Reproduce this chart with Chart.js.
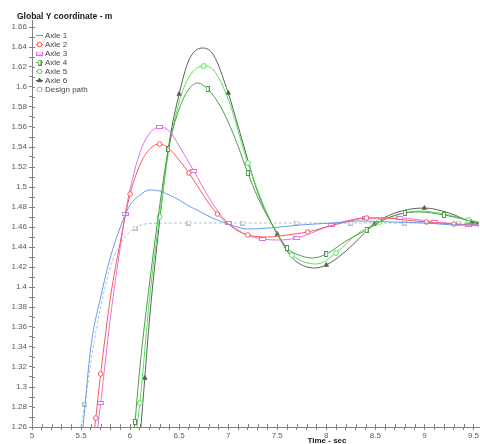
<!DOCTYPE html>
<html>
<head>
<meta charset="utf-8">
<script src="https://cdn.jsdelivr.net/npm/chart.js@4/dist/chart.umd.min.js"></script>
<style>
  html, body { margin: 0; padding: 0; background: #fff; }
  canvas { display: block; }
</style>
</head>
<body>
<canvas id="chart" width="480" height="444"></canvas>
<script>
// time (sec) / global Y coordinate (m)
const axle1Time = [5.5, 5.52, 5.6, 5.7, 5.8, 5.9, 6.0, 6.1, 6.2, 6.3, 6.4, 6.5, 6.6, 6.7, 6.84, 7.0, 7.2, 7.42, 7.73, 8.06, 8.34, 8.67, 9.0, 9.35, 9.56];
const axle1Y    = [1.24, 1.26, 1.34, 1.39, 1.43, 1.46, 1.482, 1.492, 1.497, 1.496, 1.492, 1.487, 1.481, 1.476, 1.469, 1.463, 1.458, 1.459, 1.462, 1.464, 1.466, 1.465, 1.464, 1.462, 1.462];

const axle2Time  = [5.6, 5.65, 5.7, 5.8, 5.9, 6.0, 6.1, 6.2, 6.3, 6.4, 6.5, 6.6, 6.7, 6.8, 6.89, 7.0, 7.1, 7.2, 7.4, 7.6, 7.81, 8.0, 8.2, 8.41, 8.6, 8.8, 9.02, 9.3, 9.56];
const axle2Y     = [1.225, 1.269, 1.313, 1.39, 1.445, 1.493, 1.522, 1.538, 1.543, 1.538, 1.527, 1.514, 1.499, 1.484, 1.473, 1.463, 1.456, 1.452, 1.450, 1.452, 1.455, 1.460, 1.465, 1.469, 1.469, 1.467, 1.465, 1.463, 1.462];
const axle2Marks = [5.65, 5.7, 6.0, 6.3, 6.6, 6.89, 7.2, 7.81, 8.41, 9.02, 9.3];

const axle3Time  = [5.62, 5.67, 5.7, 5.8, 5.9, 5.95, 6.05, 6.15, 6.3, 6.4, 6.5, 6.65, 6.8, 6.9, 7.0, 7.1, 7.19, 7.35, 7.5, 7.7, 7.9, 8.05, 8.2, 8.4, 8.75, 9.1, 9.45, 9.56];
const axle3Y     = [1.22, 1.26, 1.284, 1.37, 1.44, 1.473, 1.518, 1.546, 1.56, 1.556, 1.541, 1.516, 1.49, 1.475, 1.464, 1.457, 1.452, 1.448, 1.447, 1.449, 1.456, 1.462, 1.466, 1.469, 1.469, 1.465, 1.462, 1.461];
const axle3Marks = [5.7, 5.95, 6.3, 6.65, 7.0, 7.35, 7.7, 8.05, 8.4, 8.75, 9.1, 9.45];

const axle4Time  = [6.0, 6.05, 6.1, 6.2, 6.3, 6.39, 6.5, 6.6, 6.69, 6.79, 6.9, 7.0, 7.1, 7.2, 7.3, 7.44, 7.6, 7.75, 7.86, 8.0, 8.2, 8.41, 8.6, 8.8, 8.95, 9.2, 9.56];
const axle4Y     = [1.215, 1.265, 1.32, 1.405, 1.48, 1.538, 1.578, 1.598, 1.604, 1.598, 1.584, 1.565, 1.541, 1.514, 1.49, 1.464, 1.439, 1.431, 1.429, 1.433, 1.446, 1.457, 1.468, 1.474, 1.475, 1.472, 1.464];
const axle4Marks = [6.05, 6.39, 6.79, 7.2, 7.6, 8.0, 8.41, 8.8, 9.2];

const axle5Time  = [6.02, 6.07, 6.1, 6.2, 6.3, 6.4, 6.5, 6.6, 6.75, 6.85, 7.0, 7.2, 7.44, 7.55, 7.65, 7.9, 8.1, 8.3, 8.54, 8.75, 8.95, 9.2, 9.45, 9.56];
const axle5Y     = [1.215, 1.26, 1.284, 1.39, 1.47, 1.54, 1.585, 1.61, 1.621, 1.617, 1.588, 1.524, 1.464, 1.445, 1.432, 1.423, 1.434, 1.452, 1.465, 1.473, 1.476, 1.473, 1.467, 1.465];
const axle5Marks = [6.1, 6.3, 6.75, 7.2, 7.65, 8.1, 8.54, 9.45];

const axle6Time  = [6.07, 6.11, 6.15, 6.2, 6.3, 6.4, 6.5, 6.6, 6.74, 6.85, 7.0, 7.1, 7.2, 7.3, 7.44, 7.5, 7.6, 7.7, 7.88, 8.0, 8.2, 8.35, 8.49, 8.7, 9.0, 9.25, 9.48, 9.56];
const axle6Y     = [1.215, 1.26, 1.309, 1.37, 1.465, 1.545, 1.593, 1.627, 1.639, 1.632, 1.594, 1.561, 1.527, 1.495, 1.464, 1.453, 1.436, 1.425, 1.419, 1.422, 1.436, 1.45, 1.463, 1.474, 1.479, 1.474, 1.465, 1.463];
const axle6Marks = [6.15, 6.5, 7.0, 7.5, 8.0, 8.49, 9.0, 9.48];

const designTime  = [5.45, 5.5, 5.54, 5.6, 5.66, 5.79, 5.9, 6.05, 6.2, 6.6, 7.15, 7.7, 8.25, 8.8, 9.35, 9.56];
const designY     = [1.235, 1.26, 1.283, 1.325, 1.36, 1.417, 1.443, 1.459, 1.4635, 1.464, 1.464, 1.464, 1.464, 1.464, 1.464, 1.464];
const designMarks = [5.54, 6.05, 6.6, 7.15, 7.7, 8.25, 8.8, 9.35];

const FONT = '"Liberation Sans", Arial, sans-serif';

// small hollow box markers
function boxMarker(w, h, color) {
    const c = document.createElement('canvas');
    c.width = w; c.height = h;
    const g = c.getContext('2d');
    g.fillStyle = '#fff';
    g.fillRect(0, 0, w, h);
    g.strokeStyle = color;
    g.lineWidth = 1;
    g.strokeRect(0.5, 0.5, w - 1, h - 1);
    return c;
}

function pts(time, y) {
    return time.map((t, i) => ({x: t, y: y[i]}));
}
function radii(time, marks, r) {
    return time.map(t => marks.includes(t) ? r : 0);
}

const series = [
    {label: 'Axle 1', color: '#6b98ef', data: pts(axle1Time, axle1Y), radius: axle1Time.map(() => 0), style: 'circle'},
    {label: 'Axle 2', color: '#ff5757', data: pts(axle2Time, axle2Y), radius: radii(axle2Time, axle2Marks, 2.3), style: 'circle'},
    {label: 'Axle 3', color: '#e272e2', data: pts(axle3Time, axle3Y), radius: radii(axle3Time, axle3Marks, 3), style: boxMarker(7, 4, '#e272e2')},
    {label: 'Axle 4', color: '#4f9a4f', data: pts(axle4Time, axle4Y), radius: radii(axle4Time, axle4Marks, 3), style: boxMarker(4, 6, '#4f9a4f')},
    {label: 'Axle 5', color: '#4ee84e', data: pts(axle5Time, axle5Y), radius: radii(axle5Time, axle5Marks, 2.5), style: 'circle'},
    {label: 'Axle 6', color: '#5e5e5e', data: pts(axle6Time, axle6Y), radius: radii(axle6Time, axle6Marks, 2.5), style: 'triangle'},
    {label: 'Design path', color: '#a8c6cc', data: pts(designTime, designY), radius: radii(designTime, designMarks, 3), style: boxMarker(5, 5, '#a8c6cc'), dash: [3, 2]}
];

const decorations = {
    id: 'decorations',
    beforeDatasetsDraw(chart) {
        // inner half of the crossing ticks
        const ctx = chart.ctx;
        const xs = chart.scales.x, ys = chart.scales.y;
        ctx.save();
        ctx.strokeStyle = '#808080';
        ctx.lineWidth = 1;
        ctx.beginPath();
        xs.ticks.forEach(t => {
            const px = Math.round(xs.getPixelForValue(t.value)) + 0.5;
            ctx.moveTo(px, xs.top);
            ctx.lineTo(px, xs.top - 3);
        });
        ys.ticks.forEach(t => {
            const py = Math.round(ys.getPixelForValue(t.value)) + 0.5;
            ctx.moveTo(ys.right, py);
            ctx.lineTo(ys.right + 3, py);
        });
        ctx.stroke();
        ctx.restore();
    },
    afterDraw(chart) {
        const ctx = chart.ctx;
        ctx.save();
        ctx.fillStyle = '#1a1a1a';
        ctx.font = 'bold 8.5px ' + FONT;
        ctx.textBaseline = 'middle';
        ctx.textAlign = 'left';
        ctx.fillText('Global Y coordinate - m', 17, 17);
        ctx.font = 'bold 8px ' + FONT;
        ctx.textAlign = 'center';
        ctx.textBaseline = 'top';
        ctx.fillText('Time - sec', 327, 437);

        // legend inside the plot
        ctx.font = '8px ' + FONT;
        ctx.textAlign = 'left';
        ctx.textBaseline = 'middle';
        series.forEach((s, i) => {
            const y = 35.5 + i * 9;
            ctx.strokeStyle = s.color;
            ctx.lineWidth = 1;
            ctx.setLineDash(s.dash || []);
            ctx.beginPath();
            ctx.moveTo(36, y);
            ctx.lineTo(43, y);
            ctx.stroke();
            ctx.setLineDash([]);
            if (i > 0) {
                Chart.helpers.drawPoint(ctx, {
                    pointStyle: s.style, radius: 2.2, rotation: 0, borderWidth: 1
                }, 39.5, y);
                ctx.fillStyle = s.style === 'triangle' ? s.color : '#fff';
                ctx.strokeStyle = s.color;
                if (typeof s.style === 'string') {
                    ctx.fill();
                    ctx.stroke();
                }
            }
            ctx.fillStyle = '#444';
            ctx.fillText(s.label, 45, y);
        });
        ctx.restore();
    }
};

new Chart(document.getElementById('chart'), {
    type: 'line',
    data: {
        datasets: series.map(s => ({
            label: s.label,
            data: s.data,
            borderColor: s.color,
            borderWidth: 1,
            borderDash: s.dash || [],
            pointRadius: s.radius,
            pointStyle: s.style,
            pointBorderColor: s.color,
            pointBackgroundColor: s.style === 'triangle' ? s.color : '#fff',
            pointBorderWidth: 1,
            cubicInterpolationMode: 'monotone',
            fill: false
        }))
    },
    options: {
        responsive: false,
        animation: false,
        events: [],
        layout: {padding: {top: 20, left: 0, right: 0, bottom: 0}},
        plugins: {
            legend: {display: false},
            tooltip: {enabled: false}
        },
        scales: {
            x: {
                type: 'linear',
                min: 5,
                max: 9.557,
                afterFit: s => { s.height = 17; },
                border: {color: '#808080', width: 1},
                grid: {drawOnChartArea: false, tickLength: 3, color: '#808080'},
                ticks: {
                    stepSize: 0.1,
                    includeBounds: false,
                    autoSkip: false,
                    maxRotation: 0,
                    padding: 1,
                    color: '#5a5a5a',
                    font: {family: FONT, size: 8},
                    callback: v => Math.abs(v * 2 - Math.round(v * 2)) < 1e-6 ? String(Number(v.toFixed(1))) : ''
                }
            },
            y: {
                min: 1.26,
                max: 1.667,
                afterFit: s => { s.width = 32; },
                border: {color: '#808080', width: 1},
                grid: {drawOnChartArea: false, tickLength: 3, color: '#808080'},
                ticks: {
                    stepSize: 0.01,
                    includeBounds: false,
                    autoSkip: false,
                    padding: 2,
                    color: '#5a5a5a',
                    font: {family: FONT, size: 8},
                    callback: v => Math.round(v * 100) % 2 === 0 ? String(Number(v.toFixed(2))) : ''
                }
            }
        }
    },
    plugins: [decorations]
});
</script>
</body>
</html>
